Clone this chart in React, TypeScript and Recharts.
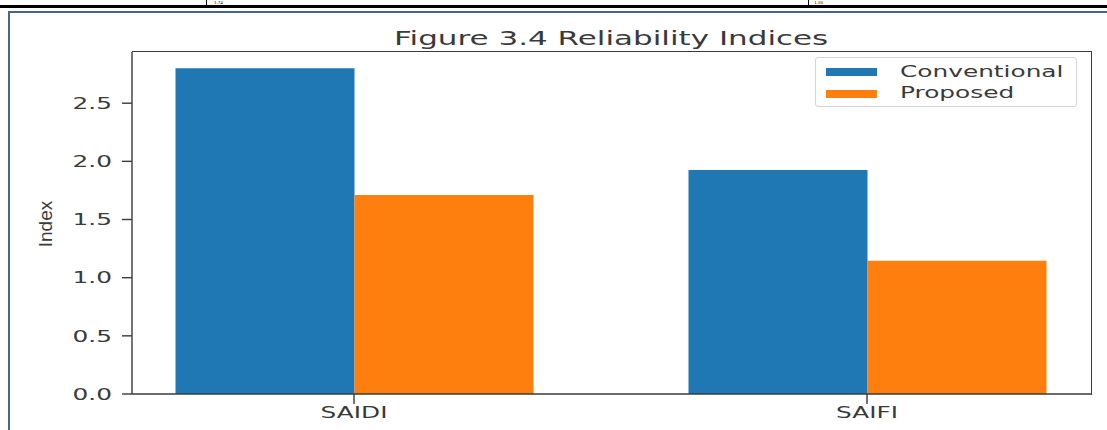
import React from "react";
import { BarChart, Bar, XAxis, YAxis, Legend } from "recharts";

const categories = ["SAIDI", "SAIFI"];
const conventional = [2.8, 1.925];
const proposed = [1.71, 1.145];
const yTicks = [0, 0.5, 1.0, 1.5, 2.0, 2.5];

const data = categories.map((name, i) => ({
  name,
  conventional: conventional[i],
  proposed: proposed[i],
}));

// the source picture is stretched sideways, so text gets the same stretch
const SX = 1.55;
const FONT = "'DejaVu Sans', sans-serif";
const INK = "#3a3a3a";

const YTick = (props: any) => {
  const { x, y, payload } = props;
  return (
    <text
      transform={`translate(${x},${y}) scale(${SX},1)`}
      textAnchor="end"
      dy="0.36em"
      fontSize={16}
      fontFamily={FONT}
      fill={INK}
    >
      {Number(payload.value).toFixed(1)}
    </text>
  );
};

const XTick = (props: any) => {
  const { x, y, payload } = props;
  return (
    <text
      transform={`translate(${x},${y}) scale(${SX},1)`}
      textAnchor="middle"
      dy={12}
      fontSize={16}
      fontFamily={FONT}
      fill={INK}
    >
      {payload.value}
    </text>
  );
};

const LegendBox = (props: any) => {
  const { payload = [] } = props;
  return (
    <div
      style={{
        position: "relative",
        height: 50,
        border: "1px solid #d4d4d4",
        borderRadius: 3,
        background: "#fff",
        boxSizing: "border-box",
      }}
    >
      {payload.map((p: any, i: number) => (
        <React.Fragment key={p.value}>
          <div
            style={{
              position: "absolute",
              left: 10,
              top: 10 + i * 21.5,
              width: 51,
              height: 8,
              background: p.color,
            }}
          />
          <span
            style={{
              position: "absolute",
              left: 84,
              top: 5.5 + i * 21.5,
              fontFamily: FONT,
              fontSize: 16,
              lineHeight: "16px",
              color: INK,
              whiteSpace: "nowrap",
              transform: `scaleX(${SX})`,
              transformOrigin: "left center",
            }}
          >
            {p.value}
          </span>
        </React.Fragment>
      ))}
    </div>
  );
};

export default function App() {
  return (
    <div
      style={{
        position: "absolute",
        left: 0,
        top: 0,
        width: 1107,
        height: 430,
        overflow: "hidden",
        background: "#fff",
      }}
    >
      {/* bit of the document table above the figure */}
      <div style={{ position: "absolute", left: 0, top: 5, width: 1107, height: 3, background: "#000" }} />
      <div style={{ position: "absolute", left: 206, top: 0, width: 1, height: 6, background: "#000" }} />
      <div style={{ position: "absolute", left: 808, top: 0, width: 1, height: 6, background: "#000" }} />
      <span style={{ position: "absolute", left: 214, top: 0, fontSize: 5, lineHeight: "5px", fontFamily: "'Liberation Serif', serif" }}>1.74</span>
      <span style={{ position: "absolute", left: 814, top: 0, fontSize: 5, lineHeight: "5px", fontFamily: "'Liberation Serif', serif" }}>1.16</span>

      {/* page border around the figure */}
      <div
        style={{
          position: "absolute",
          left: 8,
          top: 11,
          width: 1120,
          height: 440,
          borderLeft: "2px solid #46658c",
          borderTop: "2px solid #46658c",
        }}
      />

      <div
        style={{
          position: "absolute",
          left: 0,
          top: 28,
          width: 1222,
          textAlign: "center",
          fontFamily: FONT,
          fontSize: 20,
          lineHeight: "20px",
          color: INK,
        }}
      >
        <span style={{ display: "inline-block", transform: `scaleX(${SX})` }}>
          Figure 3.4 Reliability Indices
        </span>
      </div>

      <div style={{ position: "absolute", left: 0, top: 0 }}>
        <BarChart
          width={1107}
          height={430}
          data={data}
          margin={{ top: 52, right: 16, bottom: 6, left: 72 }}
          barGap={0}
          barSize={179}
        >
          <XAxis
            dataKey="name"
            height={30}
            padding={{ left: -34.5, right: -32.5 }}
            stroke={INK}
            strokeWidth={1.4}
            tickSize={10}
            tickMargin={2}
            tick={<XTick />}
            interval={0}
          />
          <YAxis
            width={60}
            domain={[0, 2.94]}
            ticks={yTicks}
            stroke={INK}
            strokeWidth={1.4}
            tickSize={10}
            tickMargin={10}
            tick={<YTick />}
            label={{
              content: () => (
                <text
                  transform="translate(45,224) rotate(-90)"
                  textAnchor="middle"
                  dy="0.36em"
                  fontSize={19}
                  fontFamily="'Liberation Sans Narrow', 'Liberation Sans', sans-serif"
                  fill={INK}
                >
                  Index
                </text>
              ),
            }}
          />
          <Legend
            layout="vertical"
            align="center"
            verticalAlign="middle"
            wrapperStyle={{ left: 815, top: 57, width: 262 }}
            content={<LegendBox />}
          />
          <Bar dataKey="conventional" name="Conventional" fill="#1f77b4" isAnimationActive={false} />
          <Bar dataKey="proposed" name="Proposed" fill="#ff7f0e" isAnimationActive={false} />
        </BarChart>
      </div>

      {/* top and right spines of the axes box */}
      <div
        style={{
          position: "absolute",
          left: 132,
          top: 51.3,
          width: 959,
          height: 343,
          borderTop: `1.4px solid ${INK}`,
          borderRight: `1.4px solid ${INK}`,
          pointerEvents: "none",
        }}
      />
    </div>
  );
}
